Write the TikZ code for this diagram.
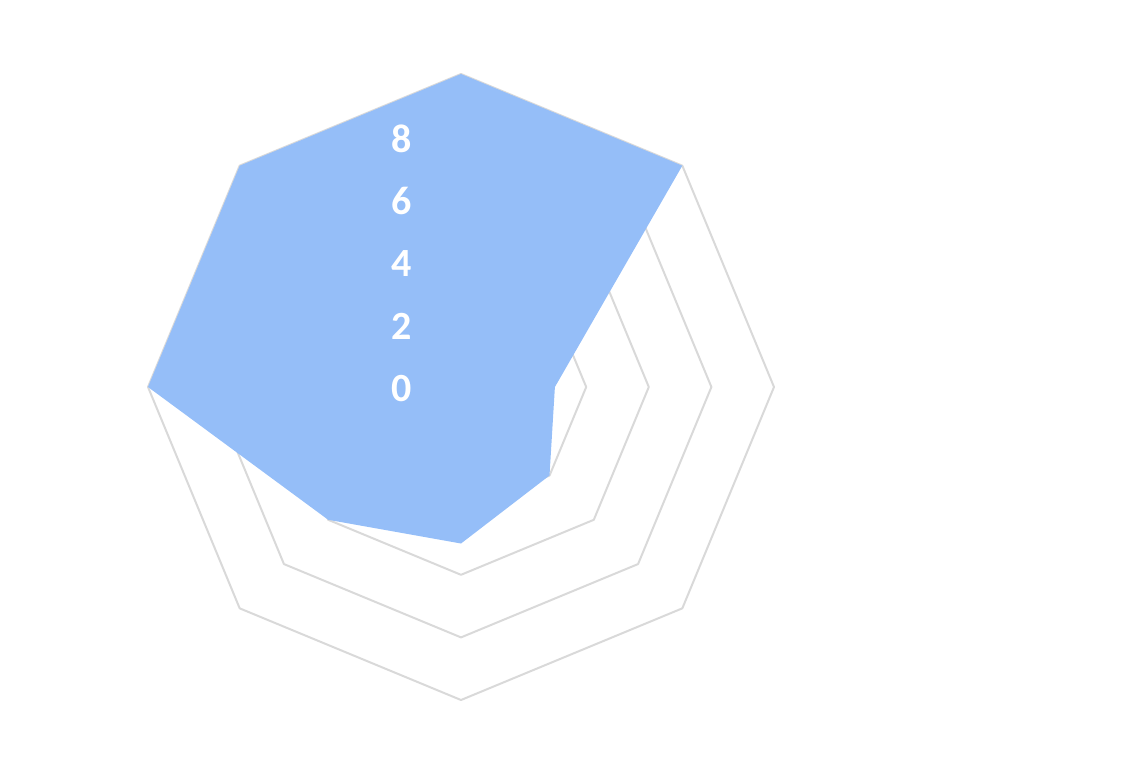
\documentclass[tikz,border=0pt]{standalone}
\usepackage{fontspec}
\setmainfont{Carlito}
\definecolor{GridGray}{RGB}{217, 217, 217}
\definecolor{AreaBlue}{RGB}{149, 190, 248}
\usetikzlibrary{calc}

\begin{document}
\begin{tikzpicture}[
        x=1pt, y=-1pt,
        ring/.style={draw=GridGray, line width=2pt, line join=round},
        area/.style={fill=AreaBlue},
        ticklabel/.style={text=white, font=\fontsize{40}{40}\selectfont\bfseries, inner sep=0pt}
    ]
        \useasboundingbox (0,0) rectangle (1121,774);
        \coordinate (c) at (461,387);
        % grid rings, 31.3px per unit
        \foreach \v in {4,6,8,10} {
            \draw [ring] ($(c)+(90:-31.3*\v)$) \foreach \a in {135,180,...,405} { -- ($(c)+(\a:-31.3*\v)$) } -- cycle;
        }
        % data area
        \fill [area] ($(c)+(0,-313)$) -- ($(c)+(221.3,-221.3)$) -- ($(c)+(93.9,0)$) -- ($(c)+(88.5,88.5)$)
            -- ($(c)+(0,156.5)$) -- ($(c)+(-132.8,132.8)$) -- ($(c)+(-313,0)$) -- ($(c)+(-221.3,-221.3)$) -- cycle;
        % axis labels
        \foreach \v in {0,2,4,6,8} {
            \node [ticklabel] (t\v) at (402,{389-31.3*\v}) {\v};
        }
    \end{tikzpicture}
\end{document}
